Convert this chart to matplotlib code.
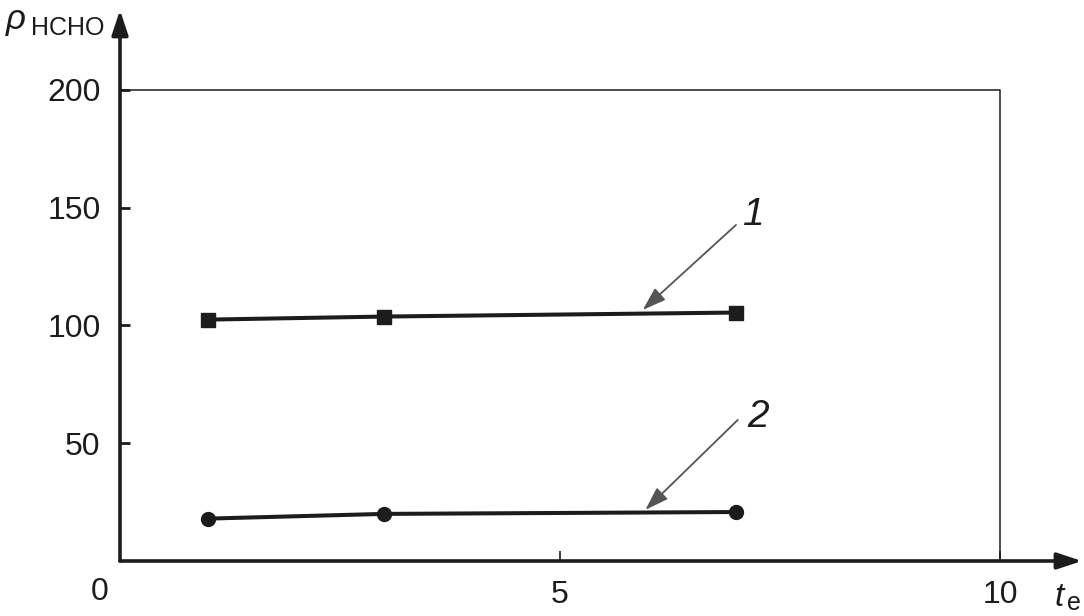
import matplotlib
matplotlib.use("Agg")
import matplotlib.pyplot as plt

plt.rcParams['font.family'] = ['Liberation Sans', 'DejaVu Sans']

# Data
x_vals = [1, 3, 7]
series1 = [102.5, 103.8, 105.5]
series2 = [18.0, 20.0, 20.8]
ytick_vals = [50, 100, 150, 200]
ytick_labels = ['50', '100', '150', '200']
xtick_vals = [5, 10]
xtick_labels = ['5', '10']

C = '#1c1c1c'
W, H = 1084, 616
fig = plt.figure(figsize=(W / 100, H / 100), dpi=100)
# axes: x 0 at px 120, 10 units = 880 px ; y 0 at px 561, 200 units = 471 px
ax_left, ax_right = 120, 1082
ax_bottom, ax_top = 561, 10
xmax = (ax_right - ax_left) / 88.0
ymax = (ax_bottom - ax_top) / 2.355
ax = fig.add_axes([ax_left / W, 1 - ax_bottom / H, (ax_right - ax_left) / W, (ax_bottom - ax_top) / H])
ax.set_xlim(0, xmax)
ax.set_ylim(0, ymax)
for s in ax.spines.values():
    s.set_visible(False)

# axes with arrows
ax.annotate('', xy=(xmax, 0), xytext=(0, 0),
            arrowprops=dict(arrowstyle='-|>,head_length=1.0,head_width=0.33', lw=2.6, color=C,
                            shrinkA=0, shrinkB=0, mutation_scale=15),
            annotation_clip=False)
ax.annotate('', xy=(0, ymax), xytext=(0, 0),
            arrowprops=dict(arrowstyle='-|>,head_length=1.0,head_width=0.33', lw=2.6, color=C,
                            shrinkA=0, shrinkB=0, mutation_scale=15),
            annotation_clip=False)

# frame lines
ax.plot([0, 10, 10], [200, 200, 0], color=C, lw=1.1, solid_capstyle='butt')

# series
ax.plot(x_vals, series1, color=C, lw=2.9, marker='s', ms=10, mfc=C, mec=C)
ax.plot(x_vals, series2, color=C, lw=2.9, marker='o', ms=10, mfc=C, mec=C)

# ticks
ax.set_yticks(ytick_vals)
ax.set_yticklabels(ytick_labels)
ax.set_xticks(xtick_vals)
ax.set_xticklabels(xtick_labels)
ax.tick_params(axis='y', direction='in', length=7, width=2, color=C, pad=14, labelsize=23, labelcolor=C)
ax.tick_params(axis='x', direction='in', length=7, width=1.2, color=C, pad=14, labelsize=23, labelcolor=C)
ax.text(-20 / 88.0, -16 / 2.355, '0', ha='center', va='top', fontsize=23, color=C)

# annotations
ax.annotate('', xy=(5.94, 106.6), xytext=(7.0, 142.7),
            arrowprops=dict(arrowstyle='-|>,head_length=1.2,head_width=0.4', lw=1.3, color='#555555',
                            shrinkA=0, shrinkB=0, mutation_scale=12))
ax.text(7.2, 147, '1', fontsize=28, style='italic', ha='center', va='center', color=C)
ax.annotate('', xy=(5.97, 21.7), xytext=(7.02, 59.9),
            arrowprops=dict(arrowstyle='-|>,head_length=1.2,head_width=0.4', lw=1.3, color='#555555',
                            shrinkA=0, shrinkB=0, mutation_scale=12))
ax.text(7.25, 61, '2', fontsize=28, style='italic', ha='center', va='center', color=C)

# axis labels
fig.text(16 / W, 1 - 20 / H, 'ρ', fontsize=25, style='italic', ha='center', va='center', color=C)
fig.text(68 / W, 1 - 28 / H, 'HCHO', fontsize=18, ha='center', va='center', color=C)
fig.text(1059 / W, 1 - 597 / H, 't', fontsize=24, style='italic', ha='center', va='center', color=C)
fig.text(1074 / W, 1 - 603 / H, 'e', fontsize=18, ha='center', va='center', color=C)

fig.savefig('out.png', dpi=100)
